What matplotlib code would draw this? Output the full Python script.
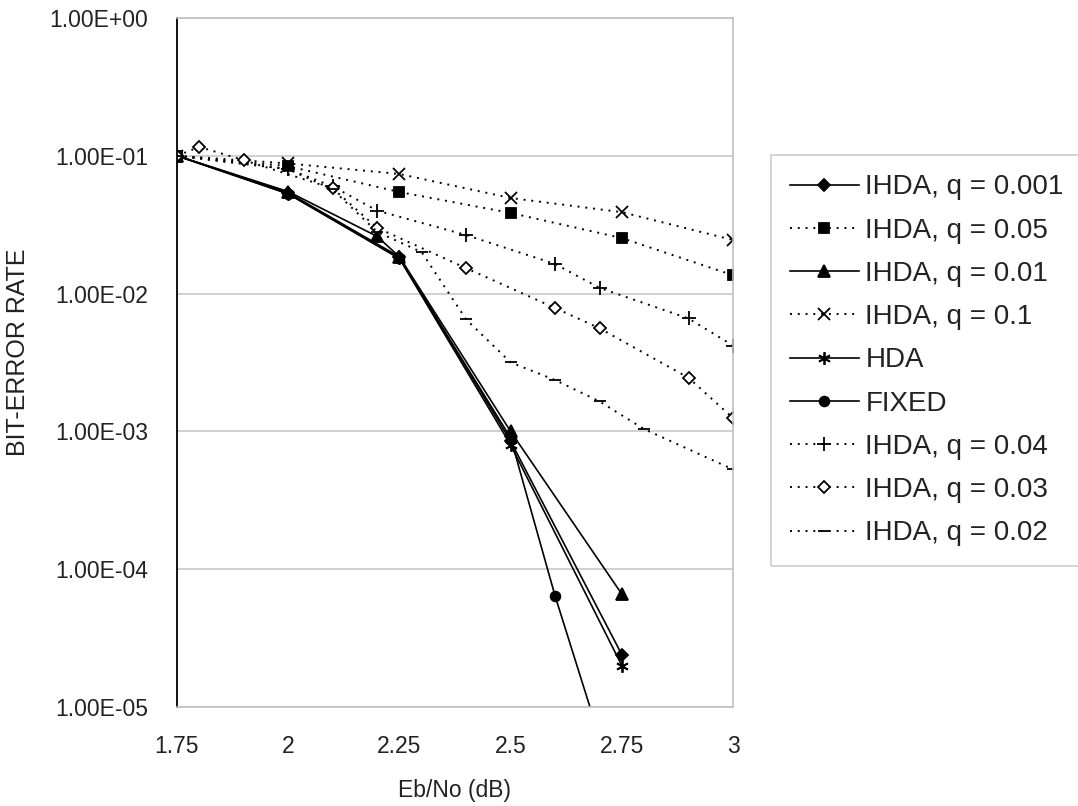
import matplotlib
matplotlib.use("Agg")
import matplotlib.pyplot as plt
from matplotlib.ticker import FixedLocator, NullLocator

# Eb/No (dB) sample points and bit-error rates per decoder
x_q0001 = [1.75, 2.0, 2.25, 2.5, 2.75]
ber_q0001 = [0.1, 0.054, 0.0185, 0.00085, 2.4e-5]

x_q005 = [1.75, 2.0, 2.25, 2.5, 2.75, 3.0]
ber_q005 = [0.1, 0.084, 0.0546, 0.0385, 0.0253, 0.0136]

x_q001 = [1.75, 2.0, 2.2, 2.25, 2.5, 2.75]
ber_q001 = [0.1, 0.055, 0.026, 0.0185, 0.001, 6.6e-5]

x_q01 = [1.75, 2.0, 2.25, 2.5, 2.75, 3.0]
ber_q01 = [0.1, 0.088, 0.0738, 0.0494, 0.039, 0.0245]

x_hda = [1.75, 2.0, 2.25, 2.5, 2.75]
ber_hda = [0.1, 0.053, 0.018, 0.0008, 2.0e-5]

x_fixed = [1.75, 2.0, 2.25, 2.5, 2.6, 2.7]
ber_fixed = [0.1, 0.053, 0.018, 0.0009, 6.4e-5, 6.0e-6]

x_q004 = [1.75, 2.0, 2.1, 2.2, 2.4, 2.6, 2.7, 2.9, 3.0]
ber_q004 = [0.1, 0.08, 0.06, 0.040, 0.0266, 0.0164, 0.011, 0.0066, 0.0042]

x_q003 = [1.75, 1.8, 1.9, 2.1, 2.2, 2.4, 2.6, 2.7, 2.9, 3.0]
ber_q003 = [0.1, 0.116, 0.093, 0.058, 0.030, 0.0153, 0.00786, 0.0056, 0.00245, 0.00125]

x_q002 = [1.75, 2.0, 2.1, 2.2, 2.3, 2.4, 2.5, 2.6, 2.7, 2.8, 3.0]
ber_q002 = [0.1, 0.08, 0.057, 0.028, 0.020, 0.0065, 0.00317, 0.00236, 0.00165, 0.00104, 0.00053]

x_ticks = [1.75, 2, 2.25, 2.5, 2.75, 3]
x_tick_labels = ["1.75", "2", "2.25", "2.5", "2.75", "3"]
y_ticks = [1e0, 1e-1, 1e-2, 1e-3, 1e-4, 1e-5]
y_tick_labels = ["1.00E+00", "1.00E-01", "1.00E-02", "1.00E-03", "1.00E-04", "1.00E-05"]

font = ["Liberation Sans", "DejaVu Sans"]
plt.rcParams["font.family"] = font

fig = plt.figure(figsize=(10.78, 8.06), dpi=100)
ax = fig.add_axes([177 / 1078, 1 - 707 / 806, (733 - 177) / 1078, (707 - 18) / 806])

dot = (0, (1, 3))
solid_lw = 1.2
dot_lw = 1.4
k = "black"
txt = "#222222"

series = [
    (x_q0001, ber_q0001, "-", "D", k, "IHDA, q = 0.001", 6),
    (x_q005, ber_q005, dot, "s", k, "IHDA, q = 0.05", 7),
    (x_q001, ber_q001, "-", "^", k, "IHDA, q = 0.01", 8),
    (x_q01, ber_q01, dot, "x", k, "IHDA, q = 0.1", 9),
    (x_hda, ber_hda, "-", (6, 2, 0), k, "HDA", 9),
    (x_fixed, ber_fixed, "-", "o", k, "FIXED", 7),
    (x_q004, ber_q004, dot, "+", k, "IHDA, q = 0.04", 10),
    (x_q003, ber_q003, dot, "D", "white", "IHDA, q = 0.03", 6),
    (x_q002, ber_q002, dot, "_", k, "IHDA, q = 0.02", 9),
]

handles = []
for xs, ys, ls, mk, fc, label, ms in series:
    lw = solid_lw if ls == "-" else dot_lw
    (h,) = ax.plot(xs, ys, linestyle=ls, color=k, linewidth=lw, marker=mk,
                   markersize=ms, markerfacecolor=fc, markeredgecolor=k,
                   markeredgewidth=1.3, label=label)
    handles.append(h)

ax.set_yscale("log")
ax.set_xlim(1.75, 3.0)
ax.set_ylim(1e-5, 1e0)
ax.xaxis.set_major_locator(FixedLocator(x_ticks))
ax.set_xticklabels(x_tick_labels)
ax.yaxis.set_major_locator(FixedLocator(y_ticks))
ax.yaxis.set_minor_locator(NullLocator())
ax.set_yticklabels(y_tick_labels)
ax.tick_params(axis="both", length=0, labelsize=16.5, colors=txt)
ax.tick_params(axis="y", pad=21)
ax.tick_params(axis="x", pad=20)

ax.grid(True, axis="y", color="#c8c8c8", linewidth=1.2)
ax.set_axisbelow(True)
for side in ("top", "right", "bottom"):
    ax.spines[side].set_color("#c0c0c0")
    ax.spines[side].set_linewidth(1.2)
ax.spines["left"].set_color("black")
ax.spines["left"].set_linewidth(1.3)

ax.set_xlabel("Eb/No (dB)", fontsize=16.5, color=txt, labelpad=15)
fig.text(18 / 1078, 1 - 352 / 806, "BIT-ERROR RATE", rotation=90,
         ha="center", va="center", fontsize=18, color=txt)

# Legend box runs past the right edge of the figure
leg = fig.legend(handles=handles, loc="upper left",
                 bbox_to_anchor=(771 / 1078, 1 - 155 / 806, 360 / 1078, 0),
                 mode="expand", fontsize=20, frameon=True, fancybox=False,
                 handlelength=2.45, handletextpad=0.25, labelspacing=0.62,
                 borderpad=0.7, numpoints=1, borderaxespad=0)
leg.get_frame().set_edgecolor("#c0c0c0")
leg.get_frame().set_linewidth(1.2)
for t in leg.get_texts():
    t.set_color(txt)

fig.savefig("out.png", dpi=100)
